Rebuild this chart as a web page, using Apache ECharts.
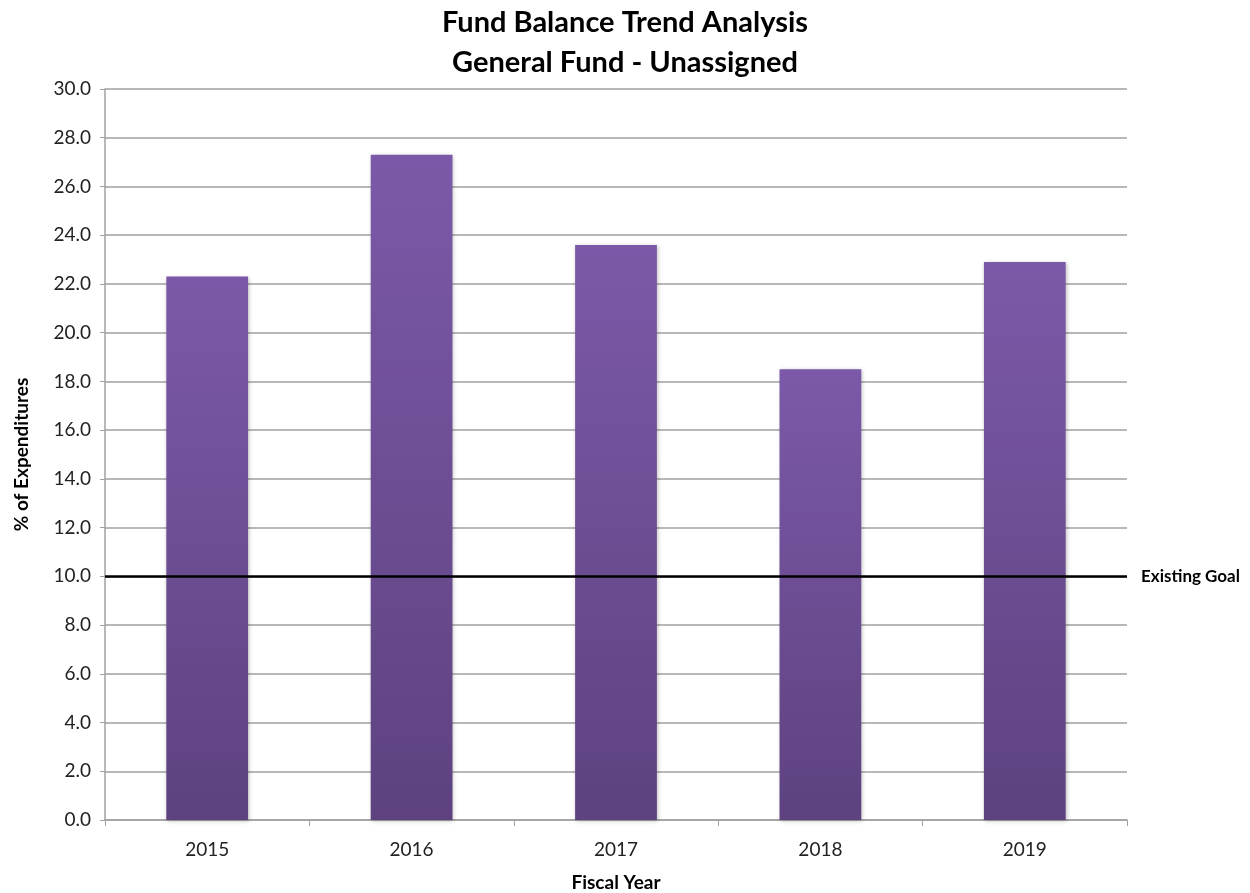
<!DOCTYPE html>
<html><head><meta charset="utf-8">
<script src="https://cdn.jsdelivr.net/npm/echarts@6/dist/echarts.min.js"></script>
<style>html,body{margin:0;padding:0;background:#fff}#c{width:1250px;height:893px}</style>
</head><body><div id="c"></div>
<script>
const categories = ['2015','2016','2017','2018','2019'];
const values = [22.3, 27.3, 23.6, 18.5, 22.9];
const goalValue = 10.0;
const goalLabel = 'Existing Goal';
const yTicks = {min: 0, max: 30, interval: 2};

const font = 'Lato, "Open Sans", sans-serif';
const chart = echarts.init(document.getElementById('c'));
chart.setOption({
  animation: false,
  backgroundColor: '#fff',
  title: {
    text: 'Fund Balance Trend Analysis\nGeneral Fund - Unassigned',
    left: 'center', top: -2,
    textStyle: {fontFamily: font, fontWeight: 'bold', fontSize: 29, lineHeight: 40, color: '#000'}
  },
  grid: {left: 105, right: 123, top: 89, bottom: 73, containLabel: false, outerBoundsMode: 'none'},
  xAxis: {
    type: 'category', data: categories,
    name: 'Fiscal Year', nameLocation: 'middle', nameGap: 53,
    nameTextStyle: {fontFamily: font, fontWeight: 'bold', fontSize: 19, color: '#000'},
    axisLine: {lineStyle: {color: '#A0A0A0', width: 1.5}},
    axisTick: {show: true, alignWithLabel: false, length: 6, lineStyle: {color: '#A0A0A0'}},
    axisLabel: {fontFamily: font, fontSize: 19, color: '#222', margin: 20}
  },
  yAxis: {
    type: 'value', min: yTicks.min, max: yTicks.max, interval: yTicks.interval,
    name: '% of Expenditures', nameLocation: 'middle', nameGap: 74, nameRotate: 90,
    nameTextStyle: {fontFamily: font, fontWeight: 'bold', fontSize: 19, color: '#000'},
    axisLine: {show: true, lineStyle: {color: '#A0A0A0', width: 1.5}},
    axisTick: {show: true, length: 5, lineStyle: {color: '#A0A0A0'}},
    axisLabel: {fontFamily: font, fontSize: 19, color: '#222', margin: 14, formatter: v => v.toFixed(1)},
    splitLine: {lineStyle: {color: '#A0A0A0', width: 1.5}}
  },
  series: [{
    type: 'bar', data: values, barWidth: '40%',
    itemStyle: {
      color: new echarts.graphic.LinearGradient(0, 0, 0, 1, [
        {offset: 0, color: '#7C59A8'}, {offset: 1, color: '#5D427F'}
      ]),
      shadowBlur: 4, shadowColor: 'rgba(0,0,0,0.25)', shadowOffsetX: 1, shadowOffsetY: 1
    },
    markLine: {
      symbol: 'none', silent: true,
      lineStyle: {color: '#000', width: 2.5, type: 'solid'},
      label: {show: true, position: 'end', formatter: goalLabel, distance: 14,
        fontFamily: font, fontWeight: 'bold', fontSize: 17, color: '#000'},
      data: [{yAxis: goalValue}]
    }
  }]
});
</script></body></html>
